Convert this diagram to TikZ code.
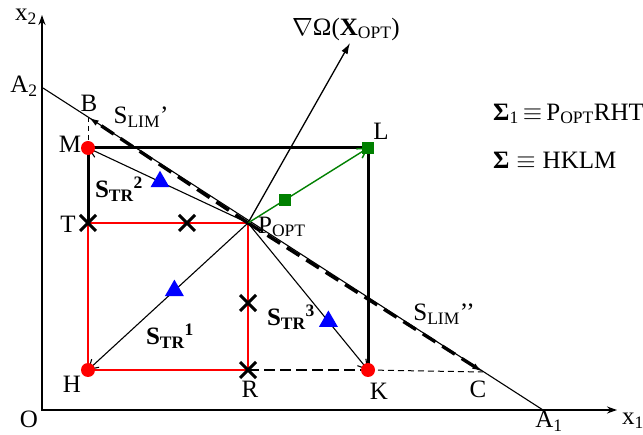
\documentclass[tikz,border=0pt]{standalone}
\usepackage{fontspec}
\setmainfont{Liberation Serif}
\usetikzlibrary{arrows.meta,shapes.misc,shapes.geometric}
\definecolor{Rojo}{HTML}{FF0000}
\definecolor{Verde}{HTML}{008000}
\definecolor{Azul}{HTML}{0000FF}

\begin{document}
\begin{tikzpicture}[
  x=1pt,y=-1pt,
  font=\fontsize{25}{29}\selectfont,
  eje/.style={line width=1.4pt},
  lado/.style={line width=3pt,black},
  ladorojo/.style={line width=2.6pt,Rojo},
  str/.style={line width=1.1pt,-{Straight Barb[length=9pt,width=11pt,line width=1.1pt]}},
  slim/.style={line width=3.4pt,dash pattern=on 15pt off 8pt,-{Latex[length=11pt,width=6pt]}},
  punto/.style={circle,fill=Rojo,inner sep=0pt,minimum size=14pt},
  cuadro/.style={rectangle,fill=Verde,inner sep=0pt,minimum size=12pt},
  cruz/.style={cross out,draw=black,line width=3pt,inner sep=0pt,minimum size=13pt},
  trian/.style={regular polygon,regular polygon sides=3,fill=Azul,inner sep=0pt,minimum size=22pt}
]
  \useasboundingbox (0,0) rectangle (643,435);

  % Puntos del diagrama
  \coordinate (O) at (42,410);
  \coordinate (ytip) at (42,15);
  \coordinate (xtip) at (617,410);
  \coordinate (A2) at (43,88);
  \coordinate (A1) at (543,410);
  \coordinate (B) at (88,117);
  \coordinate (C) at (483,372);
  \coordinate (M) at (88,148);
  \coordinate (L) at (368,148);
  \coordinate (T) at (88,223);
  \coordinate (P) at (248,223);
  \coordinate (H) at (88,370);
  \coordinate (R) at (248,370);
  \coordinate (K) at (368,370);
  \coordinate (G) at (350,43);

  % Ejes y recta limite
  \draw[eje,{Stealth[length=10pt,width=7pt]}-{Stealth[length=10pt,width=7pt]}]
    (ytip) -- (O) -- (xtip);
  \draw[line width=1.1pt] (A2) -- (A1);

  % Dominios
  \draw[ladorojo] (H) -- (T) -- (P) -- (R) -- cycle;
  \draw[lado] (T) -- (M) -- (L) -- (K);
  \draw[line width=2.4pt,dash pattern=on 11pt off 5pt] (R) -- (K);
  \draw[line width=1pt,dash pattern=on 6pt off 4pt] (K) -- (C);
  \draw[line width=1pt,dash pattern=on 5pt off 4pt] (B) -- (M);

  % Direcciones desde P_OPT
  \draw[slim] (P) -- (B);
  \draw[slim] (P) -- (C);
  \draw[line width=1.3pt,-{Latex[length=11pt,width=7pt]}] (P) -- (G);
  \draw[line width=1.4pt,Verde,-{Straight Barb[length=9pt,width=11pt,line width=1.4pt]}]
    (P) -- node[cuadro,pos=0.31] (Q) {} (L);
  \draw[str] (P) -- node[trian,pos=0.55] (t2) {} (M);
  \draw[str] (P) -- node[trian,pos=0.46] (t1) {} (H);
  \draw[str] (P) -- node[trian,pos=0.67] (t3) {} (K);

  % Marcas
  \node[punto] (pM) at (M) {};
  \node[punto] (pH) at (H) {};
  \node[punto] (pK) at (K) {};
  \node[cuadro] (pL) at (L) {};
  \node[cruz] (cT) at (T) {};
  \node[cruz] (cTP) at (187,223) {};
  \node[cruz] (cPR) at (248,303) {};
  \node[cruz] (cR) at (R) {};

  % Etiquetas
  \node (lx2) at (26,17) {x\textsubscript{2}};
  \node (lx1) at (633,421) {x\textsubscript{1}};
  \node (lO) at (29,419) {O};
  \node (lA2) at (24,86) {A\textsubscript{2}};
  \node (lA1) at (549,421) {A\textsubscript{1}};
  \node (lB) at (89,103) {B};
  \node (lC) at (478,389) {C};
  \node (lM) at (70,144) {M};
  \node (lL) at (381,131) {L};
  \node (lT) at (68,224) {T};
  \node (lH) at (72,384) {H};
  \node (lR) at (250,389) {R};
  \node (lK) at (379,391) {K};
  \node[anchor=west,inner sep=0pt] (lP) at (258,227) {P\textsubscript{OPT}};
  \node (lgrad) at (346,29) {$\nabla$Ω(\textbf{X}\textsubscript{OPT})};
  \node (lslim1) at (141,117) {S\textsubscript{LIM}’};
  \node (lslim2) at (444,314) {S\textsubscript{LIM}’’};
  \node (lstr2) at (119,189) {\textbf{S\textsubscript{TR}\textsuperscript{2}}};
  \node (lstr1) at (170,336) {\textbf{S\textsubscript{TR}\textsuperscript{1}}};
  \node (lstr3) at (291,317) {\textbf{S\textsubscript{TR}\textsuperscript{3}}};
  \node[anchor=west,inner sep=0pt] (sig1) at (493,114)
    {\textbf{Σ}\textsubscript{1}$\,\equiv\,$P\textsubscript{OPT}RHT};
  \node[anchor=west,inner sep=0pt] (sig) at (493,160)
    {\textbf{Σ}$\;\equiv\;$HKLM};
\end{tikzpicture}
\end{document}
